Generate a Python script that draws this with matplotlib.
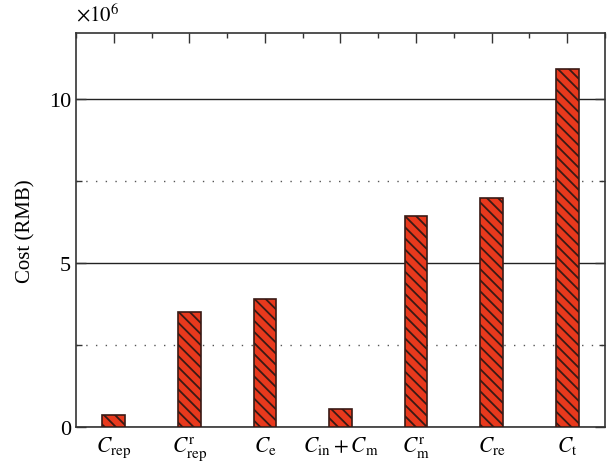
import matplotlib
matplotlib.use('Agg')
import matplotlib.pyplot as plt
from matplotlib.ticker import MultipleLocator

plt.rcParams['font.family'] = 'Liberation Serif'
plt.rcParams['mathtext.fontset'] = 'stix'
plt.rcParams['hatch.linewidth'] = 1.3
plt.rcParams['hatch.color'] = '#2a1a18'

# 成本数据 (单位: 10^6 RMB)
labels = [r'$C_{\mathrm{rep}}$', r'$C_{\mathrm{rep}}^{\mathrm{r}}$', r'$C_{\mathrm{e}}$',
          r'$C_{\mathrm{in}} + C_{\mathrm{m}}$', r'$C_{\mathrm{m}}^{\mathrm{r}}$',
          r'$C_{\mathrm{re}}$', r'$C_{\mathrm{t}}$']
costs = [0.38, 3.52, 3.91, 0.57, 6.43, 7.00, 10.92]

fig = plt.figure(figsize=(6.09, 4.64), dpi=100)
ax = fig.add_axes([0.1248, 0.0769, 0.8686, 0.849])

x = list(range(1, len(costs) + 1))
ax.bar(x, costs, width=0.3, color='#e8391d', edgecolor='#3a1a15',
       linewidth=1.2, hatch='\\\\\\', zorder=3)

ax.set_xlim(0.5, 7.5)
ax.set_ylim(0, 12)
ax.set_xticks(x)
ax.set_xticklabels(labels, fontsize=15.5)
ax.xaxis.set_minor_locator(MultipleLocator(0.5))
ax.yaxis.set_major_locator(MultipleLocator(5))
ax.yaxis.set_minor_locator(MultipleLocator(2.5))

ax.grid(True, which='major', axis='y', color='#222222', linewidth=1.0, zorder=0)
ax.grid(True, which='minor', axis='y', color='#555555', linewidth=1.0,
        linestyle=(0, (1, 6)), zorder=0)

ax.tick_params(axis='x', which='both', bottom=False, top=True, direction='in',
               pad=5, colors='#333333', labelcolor='black')
ax.tick_params(axis='x', which='major', length=7, width=1)
ax.tick_params(axis='x', which='minor', length=3.5, width=1)
ax.tick_params(axis='y', which='both', left=True, right=True, direction='in',
               labelsize=16, colors='#333333', labelcolor='black')
ax.tick_params(axis='y', which='major', length=7, width=1)
ax.tick_params(axis='y', which='minor', length=4, width=1)

for s in ax.spines.values():
    s.set_color('#333333')
    s.set_linewidth(1.2)

ax.set_ylabel('Cost (RMB)', fontsize=15, labelpad=10)
fig.text(0.125, 0.953, r'$\times 10^{6}$', fontsize=15, ha='left', va='baseline')

fig.savefig('out.png', dpi=100)
